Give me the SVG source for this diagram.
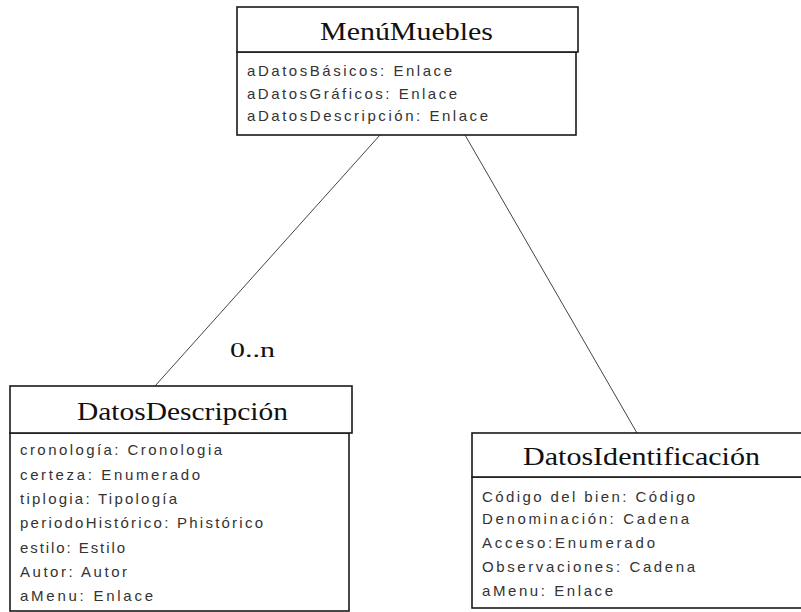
<svg xmlns="http://www.w3.org/2000/svg" width="801" height="612" viewBox="0 0 801 612">
<style>
.box{fill:#fff;stroke:#1a1a1a;stroke-width:1.6}
.title{font-family:"Liberation Serif","Times New Roman",serif;font-size:26px;fill:#111}
.attr{font-family:"Liberation Sans",Arial,sans-serif;font-size:15px;fill:#333}
.conn{stroke:#444;stroke-width:1;fill:none}
.mult{font-family:"Liberation Serif","Times New Roman",serif;font-size:22px;fill:#111}
</style>
<rect width="801" height="612" fill="#fff"/>
<g id="connectors">
<line class="conn" x1="380" y1="135" x2="155" y2="386"/>
<line class="conn" x1="465" y1="135" x2="637" y2="433"/>
<text class="mult" x="230" y="357" textLength="45" lengthAdjust="spacingAndGlyphs">0..n</text>
</g>
<g id="MenuMuebles">
<rect class="box" x="237" y="52" width="339" height="83"/>
<rect class="box" x="237" y="7" width="341" height="45"/>
<text class="title" x="320" y="40" textLength="173" lengthAdjust="spacingAndGlyphs">MenúMuebles</text>
<text class="attr" x="247" y="76" textLength="205" lengthAdjust="spacing">aDatosBásicos: Enlace</text>
<text class="attr" x="247" y="98.5" textLength="210" lengthAdjust="spacing">aDatosGráficos: Enlace</text>
<text class="attr" x="247" y="121" textLength="241" lengthAdjust="spacing">aDatosDescripción: Enlace</text>
</g>
<g id="DatosDescripcion">
<rect class="box" x="10" y="433" width="339" height="178"/>
<rect class="box" x="10" y="386" width="342" height="47"/>
<text class="title" x="77" y="420" textLength="211" lengthAdjust="spacingAndGlyphs">DatosDescripción</text>
<text class="attr" x="20" y="455" textLength="202" lengthAdjust="spacing">cronología: Cronologia</text>
<text class="attr" x="20" y="480" textLength="180" lengthAdjust="spacing">certeza: Enumerado</text>
<text class="attr" x="20" y="504" textLength="157" lengthAdjust="spacing">tiplogia: Tipología</text>
<text class="attr" x="20" y="528" textLength="243" lengthAdjust="spacing">periodoHistórico: Phistórico</text>
<text class="attr" x="20" y="553" textLength="105" lengthAdjust="spacing">estilo: Estilo</text>
<text class="attr" x="20" y="577" textLength="107" lengthAdjust="spacing">Autor: Autor</text>
<text class="attr" x="20" y="601" textLength="133" lengthAdjust="spacing">aMenu: Enlace</text>
</g>
<g id="DatosIdentificacion">
<rect class="box" x="472" y="477" width="340" height="131"/>
<rect class="box" x="472" y="433" width="340" height="44"/>
<text class="title" x="523" y="465" textLength="237" lengthAdjust="spacingAndGlyphs">DatosIdentificación</text>
<text class="attr" x="482" y="502" textLength="213" lengthAdjust="spacing">Código del bien: Código</text>
<text class="attr" x="482" y="524" textLength="207" lengthAdjust="spacing">Denominación: Cadena</text>
<text class="attr" x="482" y="548" textLength="173" lengthAdjust="spacing">Acceso:Enumerado</text>
<text class="attr" x="482" y="572" textLength="213" lengthAdjust="spacing">Observaciones: Cadena</text>
<text class="attr" x="482" y="596" textLength="131" lengthAdjust="spacing">aMenu: Enlace</text>
</g>
</svg>
